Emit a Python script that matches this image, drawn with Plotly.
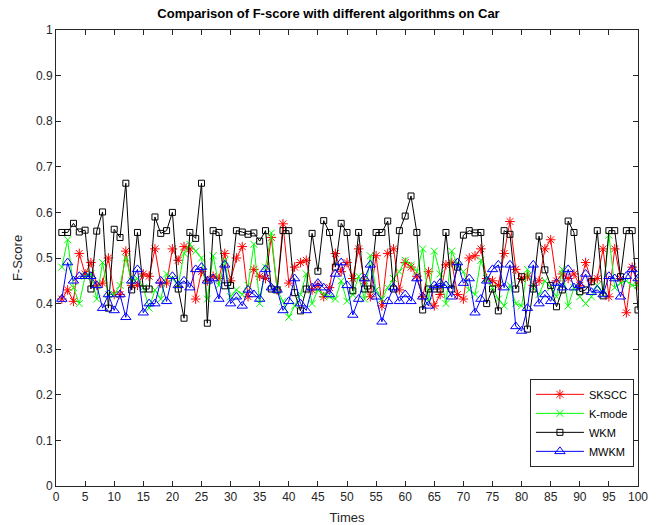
import plotly.graph_objects as go

times = list(range(1, 101))

sksCC = [0.41, 0.43, 0.405, 0.51, 0.465, 0.49, 0.44, 0.445, 0.50, 0.42,
         0.42, 0.515, 0.44, 0.44, 0.465, 0.46, 0.52, 0.445, 0.445, 0.52,
         0.495, 0.525, 0.52, 0.41, 0.47, 0.45, 0.46, 0.455, 0.51, 0.45,
         0.50, 0.525, 0.415, 0.475, 0.46, 0.455, 0.545, 0.43, 0.575, 0.445,
         0.48, 0.49, 0.495, 0.43, 0.44, 0.415, 0.435, 0.51, 0.47, 0.49,
         0.455, 0.52, 0.45, 0.415, 0.505, 0.395, 0.51, 0.52, 0.43, 0.49,
         0.48, 0.46, 0.415, 0.47, 0.395, 0.42, 0.485, 0.49, 0.42, 0.41,
         0.50, 0.505, 0.52, 0.455, 0.45, 0.44, 0.51, 0.58, 0.475, 0.455,
         0.46, 0.44, 0.45, 0.52, 0.54, 0.45, 0.465, 0.455, 0.465, 0.44,
         0.49, 0.45, 0.455, 0.52, 0.415, 0.52, 0.455, 0.38, 0.48, 0.44]

kmode = [0.48, 0.54, 0.435, 0.40, 0.46, 0.465, 0.41, 0.49, 0.42, 0.42,
         0.44, 0.50, 0.45, 0.455, 0.435, 0.39, 0.43, 0.41, 0.465, 0.455,
         0.44, 0.51, 0.53, 0.515, 0.50, 0.41, 0.505, 0.44, 0.495, 0.415,
         0.43, 0.42, 0.44, 0.53, 0.40, 0.48, 0.555, 0.43, 0.405, 0.37,
         0.395, 0.42, 0.465, 0.40, 0.43, 0.42, 0.415, 0.41, 0.45, 0.405,
         0.42, 0.46, 0.41, 0.505, 0.43, 0.41, 0.435, 0.455, 0.47, 0.495,
         0.485, 0.47, 0.52, 0.405, 0.515, 0.465, 0.40, 0.515, 0.485, 0.47,
         0.43, 0.42, 0.495, 0.455, 0.435, 0.41, 0.395, 0.44, 0.40, 0.395,
         0.475, 0.435, 0.42, 0.45, 0.435, 0.415, 0.475, 0.395, 0.435, 0.415,
         0.40, 0.415, 0.44, 0.42, 0.55, 0.435, 0.445, 0.45, 0.44, 0.44]

wkm = [0.556, 0.556, 0.576, 0.557, 0.561, 0.432, 0.559, 0.601, 0.390, 0.563,
       0.545, 0.664, 0.430, 0.556, 0.432, 0.432, 0.590, 0.554, 0.560, 0.600,
       0.432, 0.368, 0.556, 0.543, 0.664, 0.357, 0.560, 0.556, 0.439, 0.440,
       0.560, 0.557, 0.552, 0.555, 0.537, 0.560, 0.432, 0.430, 0.560, 0.560,
       0.424, 0.384, 0.432, 0.554, 0.471, 0.582, 0.556, 0.480, 0.576, 0.556,
       0.428, 0.556, 0.432, 0.432, 0.556, 0.556, 0.581, 0.432, 0.560, 0.592,
       0.636, 0.556, 0.386, 0.432, 0.432, 0.432, 0.556, 0.432, 0.480, 0.550,
       0.560, 0.555, 0.556, 0.400, 0.432, 0.384, 0.560, 0.552, 0.432, 0.459,
       0.344, 0.432, 0.548, 0.474, 0.440, 0.393, 0.430, 0.581, 0.556, 0.426,
       0.430, 0.448, 0.560, 0.417, 0.560, 0.560, 0.459, 0.560, 0.560, 0.386]

mwkm = [0.41, 0.49, 0.45, 0.46, 0.46, 0.46, 0.44, 0.39, 0.42, 0.385,
        0.42, 0.37, 0.45, 0.475, 0.38, 0.40, 0.40, 0.45, 0.405, 0.46,
        0.44, 0.45, 0.435, 0.475, 0.48, 0.45, 0.455, 0.41, 0.485, 0.40,
        0.415, 0.395, 0.43, 0.42, 0.41, 0.475, 0.435, 0.43, 0.385, 0.405,
        0.455, 0.40, 0.385, 0.435, 0.445, 0.435, 0.42, 0.465, 0.49, 0.44,
        0.375, 0.41, 0.455, 0.485, 0.415, 0.36, 0.405, 0.435, 0.405, 0.42,
        0.405, 0.455, 0.415, 0.395, 0.44, 0.445, 0.44, 0.415, 0.49, 0.445,
        0.455, 0.38, 0.41, 0.45, 0.475, 0.485, 0.435, 0.485, 0.35, 0.34,
        0.39, 0.485, 0.40, 0.42, 0.405, 0.445, 0.435, 0.475, 0.435, 0.44,
        0.465, 0.425, 0.43, 0.42, 0.46, 0.455, 0.415, 0.46, 0.475, 0.455]

x_ticks = list(range(0, 101, 5))
y_ticks = [round(0.1 * k, 1) for k in range(11)]

series = [
    ("SKSCC", sksCC, "#ff0000", "asterisk-open", 8),
    ("K-mode", kmode, "#00ff00", "x-thin-open", 7),
    ("WKM", wkm, "#000000", "square-open", 6),
    ("MWKM", mwkm, "#0000ff", "triangle-up-open", 9),
]

fig = go.Figure()
for name, vals, color, symbol, size in series:
    fig.add_trace(go.Scatter(
        x=times, y=vals, name=name, mode="lines+markers",
        line=dict(color=color, width=1),
        marker=dict(symbol=symbol, size=size, color=color,
                    line=dict(color=color, width=1)),
    ))

axis_common = dict(
    showgrid=False, zeroline=False, showline=True, linecolor="#262626",
    linewidth=1, mirror="ticks", ticks="inside", ticklen=5,
    tickcolor="#262626", tickfont=dict(size=12, color="#262626"),
    automargin=False,
)

fig.update_layout(
    width=657, height=525,
    margin=dict(l=56, r=19, t=30, b=39),
    paper_bgcolor="white", plot_bgcolor="white",
    font=dict(family="Liberation Sans, Arial, sans-serif", color="#262626"),
    title=dict(text="<b>Comparison of F-score with different algorithms on Car</b>",
               x=0.5, xanchor="center", y=0.975, yanchor="middle",
               font=dict(size=13, color="#000000")),
    xaxis=dict(range=[0, 100], tickvals=x_ticks,
               title=dict(text="Times", standoff=10, font=dict(size=13)),
               **axis_common),
    yaxis=dict(range=[0, 1], tickvals=y_ticks,
               ticktext=[("%g" % v) for v in y_ticks],
               title=dict(text="F-Score", standoff=10, font=dict(size=13)),
               **axis_common),
    legend=dict(x=0.993, y=0.042, xanchor="right", yanchor="bottom",
                bgcolor="white", bordercolor="#262626", borderwidth=1,
                font=dict(size=11, color="#000000"), tracegroupgap=0,
                itemwidth=48),
    showlegend=True,
)

fig.write_html("out.html")
